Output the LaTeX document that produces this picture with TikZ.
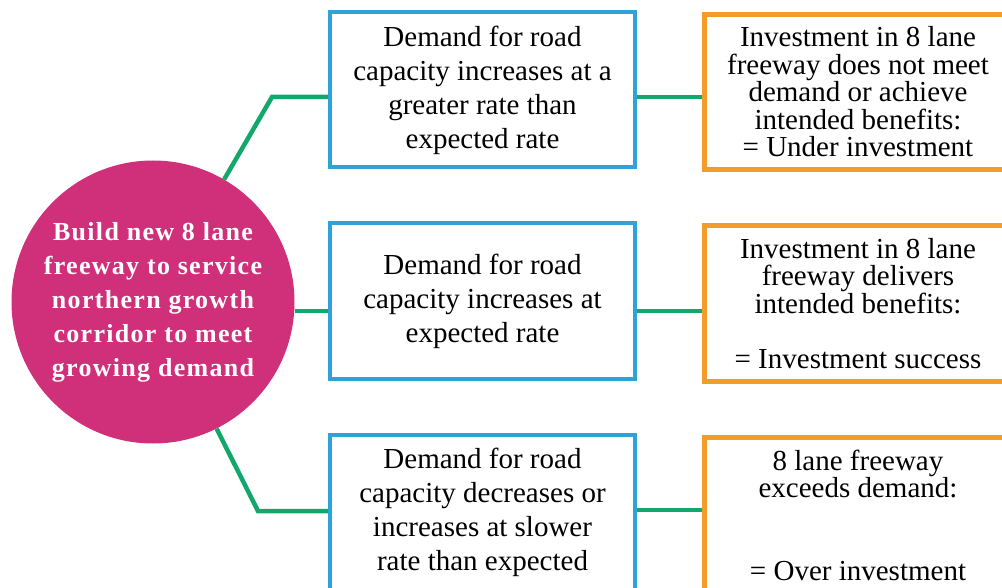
\documentclass[tikz,border=0pt]{standalone}
\usepackage{fontspec}
\setmainfont{Liberation Serif}
\newfontfamily\circfont[LetterSpace=5]{Liberation Serif}
\definecolor{mag}{HTML}{D02F7A}
\definecolor{bluebox}{HTML}{2EA3DA}
\definecolor{orangebox}{HTML}{F39C2A}
\definecolor{greenline}{HTML}{13A86B}
\tikzset{
  bluenode/.style={draw=bluebox, line width=4pt, fill=white, minimum width=305pt, minimum height=155pt, align=center, inner sep=0pt, font=\fontsize{29}{34}\selectfont},
  orangenode/.style={draw=orangebox, line width=5pt, fill=white, minimum width=307pt, minimum height=155pt, align=center, inner sep=0pt, font=\fontsize{29}{27.5}\selectfont},
  hub/.style={circle, fill=mag, minimum size=283pt, inner sep=0pt, align=center, text=white, font=\circfont\bfseries\fontsize{26}{34}\selectfont},
  link/.style={draw=greenline, line width=4.5pt}
}
\begin{document}
\begin{tikzpicture}[x=1pt,y=-1pt]
\useasboundingbox (0,0) rectangle (1002,588);
\clip (0,0) rectangle (1002,588);
\fill[white] (0,0) rectangle (1002,588);
\coordinate (k1) at (272,97);
\coordinate (k3) at (258,511);
\node[hub] (c) at (153,302) {Build new 8 lane\\freeway to service\\northern growth\\corridor to meet\\growing demand};
\node[bluenode] (b1) at (482.5,90) {Demand for road\\capacity increases at a\\greater rate than\\expected rate};
\node[bluenode] (b2) at (482.5,301) {Demand for road\\capacity increases at\\expected rate};
\node[bluenode] (b3) at (482.5,512) {Demand for road\\capacity decreases or\\increases at slower\\rate than expected};
\node[orangenode] (o1) at (858,92) {Investment in 8 lane\\freeway does not meet\\demand or achieve\\intended benefits:\\= Under investment};
\node[orangenode] (o2) at (858,303.5) {Investment in 8 lane\\freeway delivers\\intended benefits:\\\mbox{}\\= Investment success};
\node[orangenode] (o3) at (858,515) {8 lane freeway\\exceeds demand:\\\mbox{}\\\mbox{}\\= Over investment};
\draw[link] (c) -- (k1) -- (k1 -| b1.west);
\draw[link] (c.east |- 0,311) -- (b2.west |- 0,311);
\draw[link] (c) -- (k3) -- (k3 -| b3.west);
\draw[link] (b1.east |- 0,97) -- (o1.west |- 0,97);
\draw[link] (b2.east |- 0,311) -- (o2.west |- 0,311);
\draw[link] (b3.east |- 0,510) -- (o3.west |- 0,510);
\end{tikzpicture}
\end{document}
